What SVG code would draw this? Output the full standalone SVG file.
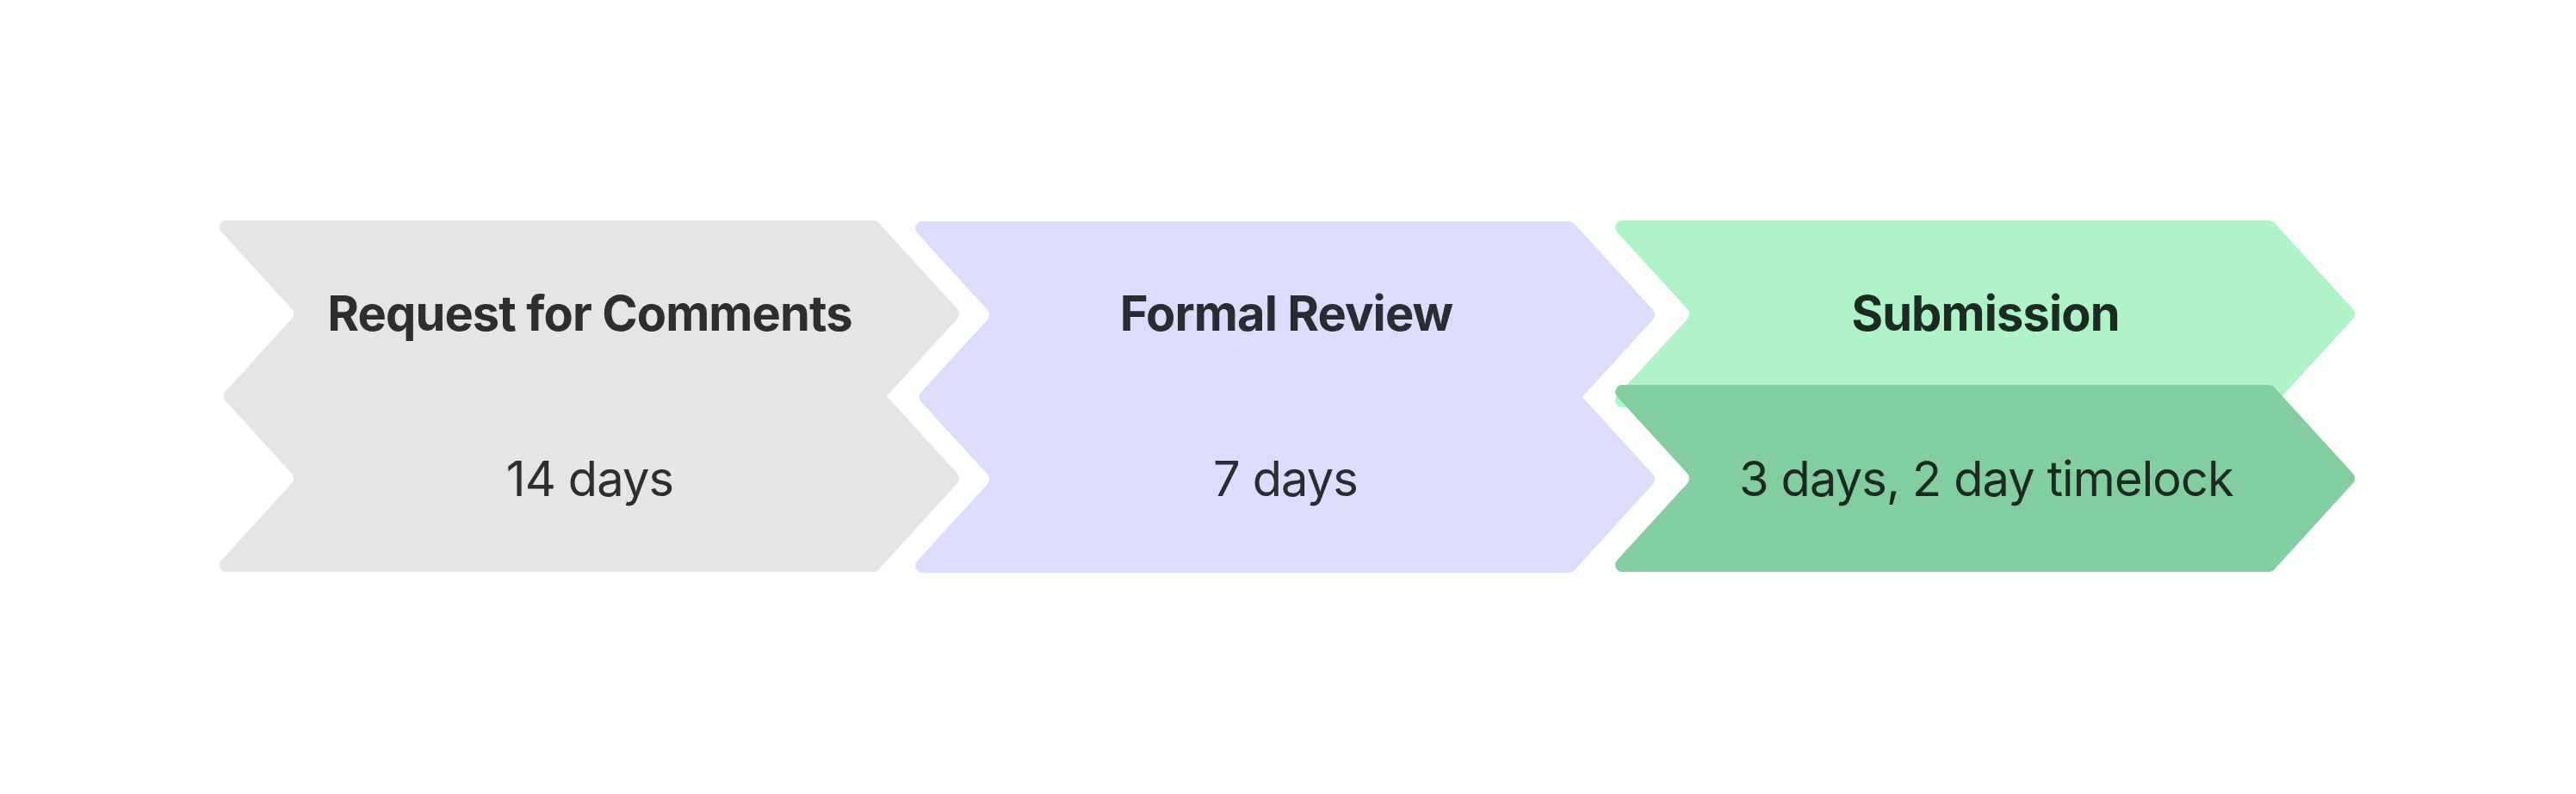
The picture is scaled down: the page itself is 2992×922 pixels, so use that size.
<svg xmlns="http://www.w3.org/2000/svg" xmlns:xlink="http://www.w3.org/1999/xlink" width="2992" height="922" viewBox="0 0 2992 922">
  <style>
    .title { font-family: Inter, "Liberation Sans", sans-serif; font-weight: 700; font-size: 56px; letter-spacing: -0.9px; text-anchor: middle; }
    .sub { font-family: Inter, "Liberation Sans", sans-serif; font-weight: 400; font-size: 56px; letter-spacing: -0.9px; text-anchor: middle; }
    .gray { fill: #e5e5e5; }
    .lav { fill: #dcdcfd; }
    .lgreen { fill: #aff4c7; }
    .dgreen { fill: #82ce9f; }
    .t1 { fill: #2e2e2e; }
    .t2 { fill: #2b2b33; }
    .t3 { fill: #1c2a21; }
  </style>
  <defs>
    <path id="chev" d="M 18.13,0 L 769.47,0 A 8 8 0 0 1 775.38,2.61 L 867.09,103.11 A 8 8 0 0 1 867.09,113.89 L 775.38,214.39 A 8 8 0 0 1 769.47,217 L 18.13,217 A 8 8 0 0 1 12.22,203.61 L 94.09,113.89 A 8 8 0 0 0 94.09,103.11 L 12.22,13.39 A 8 8 0 0 1 18.13,0 Z"/>
    <path id="dchev" d="M 18.13,0 L 769.47,0 A 8 8 0 0 1 775.38,2.61 L 867.09,103.11 A 8 8 0 0 1 867.09,113.89 L 784.86,204 L 867.09,294.11 A 8 8 0 0 1 867.09,304.89 L 775.38,405.39 A 8 8 0 0 1 769.47,408 L 18.13,408 A 8 8 0 0 1 12.22,394.61 L 94.09,304.89 A 8 8 0 0 0 94.09,294.11 L 16.77,209.39 A 8 8 0 0 1 16.77,198.61 L 94.09,113.89 A 8 8 0 0 0 94.09,103.11 L 12.22,13.39 A 8 8 0 0 1 18.13,0 Z"/>
  </defs>
  <rect x="0" y="0" width="2992" height="922" fill="#ffffff"/>
  <g id="connectors"></g>
  <g id="stage-rfc">
    <use xlink:href="#dchev" href="#dchev" class="gray" transform="translate(245,256)"/>
    <text class="title t1" x="685" y="384">Request for Comments</text>
    <text class="sub t1" x="685" y="576">14 days</text>
  </g>
  <g id="stage-review">
    <use xlink:href="#dchev" href="#dchev" class="lav" transform="translate(1053,257)"/>
    <text class="title t2" x="1494" y="384">Formal Review</text>
    <text class="sub t2" x="1493" y="576">7 days</text>
  </g>
  <g id="stage-submission">
    <use xlink:href="#chev" href="#chev" class="lgreen" transform="translate(1866,256)"/>
    <use xlink:href="#chev" href="#chev" class="dgreen" transform="translate(1866,447)"/>
    <text class="title t3" x="2306" y="384">Submission</text>
    <text class="sub t3" x="2307" y="576">3 days, 2 day timelock</text>
  </g>
</svg>
